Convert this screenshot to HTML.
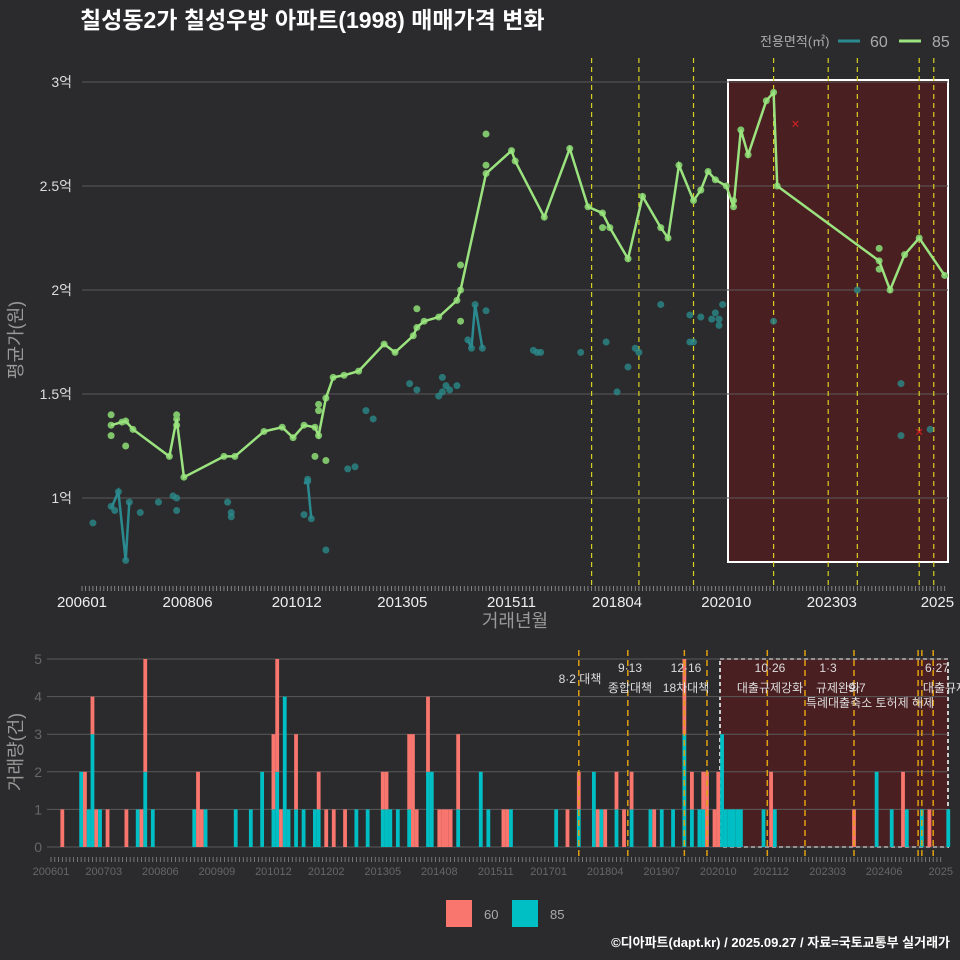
<!DOCTYPE html>
<html><head><meta charset="utf-8">
<style>
html,body{margin:0;padding:0;background:#2b2b2d;}
svg{display:block;font-family:"Liberation Sans","Noto Sans CJK KR",sans-serif;}
</style></head>
<body>
<svg id="c" width="960" height="960" viewBox="0 0 960 960" xmlns="http://www.w3.org/2000/svg">
<rect width="960" height="960" fill="#2b2b2d"/>
<text x="80" y="28" fill="#fff" font-size="23" font-weight="bold">칠성동2가 칠성우방 아파트(1998) 매매가격 변화</text>
<g>
<text x="760" y="46" fill="#aaa" font-size="13">전용면적(㎡)</text>
<line x1="838" y1="41" x2="860" y2="41" stroke="#2a8a90" stroke-width="3"/>
<text x="870" y="47" fill="#aaa" font-size="16">60</text>
<line x1="899" y1="41" x2="921" y2="41" stroke="#9be37f" stroke-width="3"/>
<text x="932" y="47" fill="#aaa" font-size="16">85</text>
</g>
<g id="topPanel"></g>
<g id="botPanel"></g>
<text x="515" y="627" fill="#999" font-size="18" text-anchor="middle">거래년월</text>
<text transform="translate(22,340) rotate(-90)" fill="#999" font-size="18" text-anchor="middle">평균가(원)</text>
<text transform="translate(22,752) rotate(-90)" fill="#999" font-size="18" text-anchor="middle">거래량(건)</text>
<g>
<rect x="446" y="900" width="26" height="27" fill="#f8766d"/>
<text x="484" y="919" fill="#aaa" font-size="13">60</text>
<rect x="512" y="900" width="26" height="27" fill="#00bfc4"/>
<text x="550" y="919" fill="#aaa" font-size="13">85</text>
</g>
<text x="950" y="947" fill="#fff" font-size="13" font-weight="bold" text-anchor="end">©디아파트(dapt.kr) / 2025.09.27 / 자료=국토교통부 실거래가</text>
</svg>
<script>
// month index from 2006-01
const line85Idx=[8,11,12,14,24,26,28,39,42,50,55,58,61,64,65,67,69,72,76,83,86,91,92,94,98,103,104,111,118,119,127,134,139,143,145,150,154,159,161,164,168,170,172,174,177,179,181,183,188,190,191,219,222,226,230,237];
const line85Val=[1.35,1.365,1.37,1.33,1.2,1.38,1.1,1.2,1.2,1.32,1.34,1.29,1.35,1.34,1.30,1.48,1.58,1.59,1.61,1.74,1.70,1.78,1.82,1.85,1.87,1.95,2.0,2.56,2.67,2.62,2.35,2.68,2.40,2.37,2.30,2.15,2.45,2.30,2.25,2.60,2.43,2.48,2.57,2.53,2.50,2.40,2.77,2.65,2.91,2.95,2.50,2.14,2.00,2.17,2.25,2.07];
const dot85Idx=[8,8,12,26,26,65,65,64,67,92,104,104,111,111,143,150,179,219,219];
const dot85Val=[1.40,1.30,1.25,1.40,1.35,1.45,1.42,1.20,1.18,1.91,2.12,1.85,2.75,2.60,2.30,2.15,2.43,2.20,2.10];
const dot60Idx=[3,8,9,10,12,13,16,21,25,26,26,40,41,41,61,62,62,63,67,73,75,78,80,90,92,98,99,100,99,101,103,106,107,108,110,111,124,125,126,137,144,147,150,152,153,159,167,167,168,170,173,174,175,175,176,190,213,225,225,233];
const dot60Val=[0.88,0.96,0.94,1.03,0.70,0.98,0.93,0.98,1.01,1.00,0.94,0.98,0.91,0.93,0.92,1.08,1.09,0.90,0.75,1.14,1.15,1.42,1.38,1.55,1.52,1.49,1.51,1.54,1.58,1.52,1.54,1.76,1.72,1.93,1.72,1.90,1.71,1.70,1.70,1.70,1.75,1.51,1.63,1.72,1.70,1.93,1.75,1.88,1.75,1.87,1.86,1.89,1.86,1.83,1.93,1.85,2.00,1.55,1.30,1.33];
const line60Idx=[[8,10,12,13],[61,62,63],[106,107,108,110]];
const line60Val=[[0.95,1.03,0.70,0.98],[1.07,1.08,0.90],[1.76,1.72,1.93,1.72]];
const xMarkIdx=[196,230];
const xMarkVal=[2.80,1.32];
const yTicks=[1,1.5,2,2.5,3];
const yTickLabels=["1억","1.5억","2억","2.5억","3억"];
const xTickIdx=[0,29,59,88,118,147,177,206,235];
const xTickLabels=["200601","200806","201012","201305","201511","201804","202010","202303","2025"];
const policyTopIdx=[140,153,168,190,205,213,230,234];
const volIdx=[3,8,9,10,11,12,13,15,20,23,24,25,27,38,39,40,41,49,53,56,59,60,61,62,63,65,67,70,71,73,75,78,81,84,88,89,90,92,95,96,97,100,101,103,104,105,106,108,114,116,120,121,122,134,137,140,144,145,146,147,150,152,154,159,160,162,165,168,170,172,173,174,176,177,178,179,180,181,182,183,189,191,192,213,219,223,226,227,231,233,238];
const vol85=[0,2,0,1,3,0,1,0,0,1, 0,2,1,1,0,0,1,1,1,2, 1,2,0,4,1,1,1,1,1,0, 0,0,1,1,1,1,1,1,1,0, 0,2,2,0,0,0,0,1,2,1, 0,0,1,1,0,1,2,0,1,0, 1,0,1,1,0,1,1,3,1,1, 1,0,0,0,3,1,1,1,1,1, 1,0,1,0,2,1,0,1,1,0, 1];
const vol60=[1,0,2,0,1,1,0,1,1,0, 1,3,0,0,2,1,0,0,0,0, 2,3,1,0,0,2,0,0,1,1, 1,1,0,0,1,1,0,0,2,3, 1,2,0,1,1,1,1,2,0,0, 1,1,0,0,1,1,0,1,0,1, 1,1,1,0,1,0,0,2,1,0, 1,2,1,2,0,0,0,0,0,0, 0,2,0,1,0,0,2,0,0,1, 0];
const policyBotIdx=[140,153,168,174,190,200,213,230,231,234];
const volTicks=[0,1,2,3,4,5];
const botTickIdx=[0,14,29,44,59,73,88,103,118,132,147,162,177,191,206,221,236];
const botTickLabels=["200601","200703","200806","200909","201012","201202","201305","201408","201511","201701","201804","201907","202010","202112","202303","202406","2025"];
const annText=[["8·2 대책",580,683],["9·13",630,672],["종합대책",630,692],["12·16",686,672],["18차대책",686,692],["10·26",770,672],["대출규제강화",770,692],["1·3",828,672],["규제완화",838,692],["9·7",857,692],["특례대출축소 토허제 해제",870,707],["6·27",937,672],["대출규제",945,692]];

const NS="http://www.w3.org/2000/svg";
function mk(p,t,a){const e=document.createElementNS(NS,t);for(const k in a)e.setAttribute(k,a[k]);p.appendChild(e);return e;}
const X=i=>82+i*3.64, Y=v=>82+(3-v)*208;
const XB=i=>51+i*3.77, YB=c=>847-c*37.6;
const topG=document.getElementById('topPanel'), botG=document.getElementById('botPanel');

let r=mk(topG,'rect',{x:728,y:80,width:220,height:482,fill:'#4a1f22',stroke:'#fff','stroke-width':2});


yTicks.forEach((v,k)=>{
 let l=mk(topG,'line',{x1:82,x2:948,y1:Y(v),y2:Y(v),stroke:'#5a5a5a','stroke-width':1});
 
 
 let t=mk(topG,'text',{x:72,y:Y(v)+5,fill:'#ddd','font-size':14,'text-anchor':'end'});t.textContent=yTickLabels[k];
 
 
});
for(let i=0;i<=237;i++){let l=mk(topG,'line',{x1:X(i),x2:X(i),y1:586,y2:591,stroke:'#999','stroke-width':0.8});
 
 }
xTickIdx.forEach((i,k)=>{let t=mk(topG,'text',{x:X(i),y:607,fill:'#eee','font-size':15,'text-anchor':'middle'});t.textContent=xTickLabels[k];
 
 });
policyTopIdx.forEach(i=>{let l=mk(topG,'line',{x1:X(i),x2:X(i),y1:58,y2:585,stroke:'#d8d020','stroke-width':1.2,'stroke-dasharray':'5,4'});
 
 });
dot60Idx.forEach((i,k)=>{let c=mk(topG,'circle',{cx:X(i),cy:Y(dot60Val[k]),r:3.5,fill:'#2a8a8a','fill-opacity':0.8});
 
 });
line60Idx.forEach((s,k)=>{let p=mk(topG,'polyline',{points:s.map((i,j)=>X(i)+','+Y(line60Val[k][j])).join(' '),fill:'none',stroke:'#2a8a90','stroke-width':2.5});
 
 });
dot85Idx.forEach((i,k)=>{let c=mk(topG,'circle',{cx:X(i),cy:Y(dot85Val[k]),r:3.5,fill:'#7fc46a'});
 
 });
line85Idx.forEach((i,k)=>{let c=mk(topG,'circle',{cx:X(i),cy:Y(line85Val[k]),r:3.5,fill:'#7fc46a'});
 
 });
let pl=mk(topG,'polyline',{points:line85Idx.map((i,k)=>X(i)+','+Y(line85Val[k])).join(' '),fill:'none',stroke:'#9be37f','stroke-width':2.5});


xMarkIdx.forEach((i,k)=>{let t=mk(topG,'text',{x:X(i),y:Y(xMarkVal[k])+5,fill:'#e02020','font-size':14,'text-anchor':'middle'});t.textContent='×';
 
 });

let r2=mk(botG,'rect',{x:720,y:659,width:228,height:188,fill:'#4a1f22',stroke:'#ccc','stroke-width':2,'stroke-dasharray':'4,3'});


volTicks.forEach(c=>{let l=mk(botG,'line',{x1:47,x2:948,y1:YB(c),y2:YB(c),stroke:'#5a5a5a'});
 
 
 let t=mk(botG,'text',{x:42,y:YB(c)+5,fill:'#666','font-size':14,'text-anchor':'end'});t.textContent=c;
 
 });
volIdx.forEach((i,k)=>{
 const a=vol85[k]||0,b2=vol60[k]||0;
 if(a>0){let b=mk(botG,'rect',{x:XB(i)-1.9,y:YB(a),width:3.8,height:YB(0)-YB(a),fill:'#00bfc4'});
 
 }
 if(b2>0){let b=mk(botG,'rect',{x:XB(i)-1.9,y:YB(a+b2),width:3.8,height:YB(a)-YB(a+b2),fill:'#f8766d'});
 
 }
});
policyBotIdx.forEach(i=>{let l=mk(botG,'line',{x1:XB(i),x2:XB(i),y1:650,y2:858,stroke:'#e0a010','stroke-width':1.5,'stroke-dasharray':'6,4'});
 
 });
for(let i=0;i<=236;i++){let l=mk(botG,'line',{x1:XB(i),x2:XB(i),y1:857,y2:862,stroke:'#888','stroke-width':0.8});
 
 }
botTickIdx.forEach((i,k)=>{let t=mk(botG,'text',{x:XB(i),y:875,fill:'#666','font-size':11,'text-anchor':'middle'});t.textContent=botTickLabels[k];
 
 });
annText.forEach(a=>{let t=mk(botG,'text',{x:a[1],y:a[2],fill:'#ddd','font-size':12,'text-anchor':'middle'});t.textContent=a[0];
 
 });
</script>
</body></html>
